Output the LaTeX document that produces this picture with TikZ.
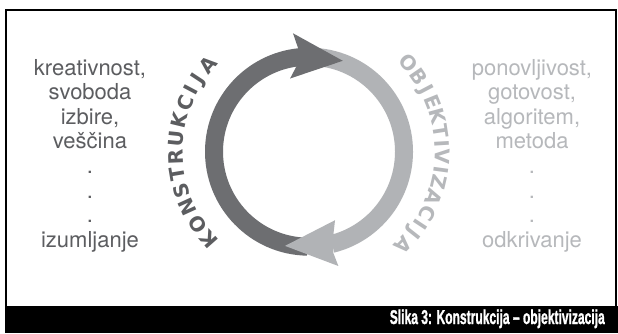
\documentclass[tikz,border=0pt]{standalone}
\usepackage{fontspec}
\usepackage{graphicx}
\setmainfont{TeX Gyre Heros}
\newfontfamily\arcfont{DejaVu Sans}
\newfontfamily\capfont{Liberation Sans}[BoldFeatures={FakeBold=1.5}]
\usetikzlibrary{calc}
\definecolor{darkring}{HTML}{6D6E71}
\definecolor{lightring}{HTML}{B1B3B6}
\definecolor{darktext}{HTML}{5C5D60}
\definecolor{lighttext}{HTML}{B6B8BB}
\tikzset{
  wordL/.style={anchor=base, inner sep=0pt, text=darktext, font=\fontsize{22}{24}\selectfont},
  wordR/.style={anchor=base, inner sep=0pt, text=lighttext, font=\fontsize{22}{24}\selectfont},
  arcletter/.style={anchor=base, inner sep=0pt, font=\arcfont\bfseries\fontsize{20}{22}\selectfont},
}
\begin{document}
\begin{tikzpicture}[x=1pt,y=1pt]
\useasboundingbox (0,0) rectangle (618,333);
\fill[white] (0,0) rectangle (618,333);
% frame and caption bar
\draw[line width=1.3pt] (6,27) -- (6,323) -- (616,323) -- (616,27);
\fill[black] (5,0) rectangle (618,27);
\node[anchor=base east, inner sep=0pt, text=white] (caption) at (605,9)
  {\resizebox{215pt}{14.5pt}{\capfont\bfseries Slika 3: Konstrukcija – objektivizacija}};
% cycle
\coordinate (C) at (309,181.3);
\draw[darkring, line width=18pt] ($(C)+(269:95)$) arc[start angle=269, end angle=96, radius=95];
\draw[lightring, line width=18pt] ($(C)+(84:95)$) arc[start angle=84, end angle=-76, radius=95];
\fill[darkring] ($(C)+(69.6:97)$) -- ($(C)+(97.7:119.5)$) -- ($(C)+(96:104)$) -- ($(C)+(98.5:86)$) -- ($(C)+(104.5:75.6)$) -- cycle;
\fill[lightring] ($(C)+(-104.3:97.2)$) -- ($(C)+(-75.6:118)$) -- ($(C)+(-76.5:104)$) -- ($(C)+(-73.5:86)$) -- ($(C)+(-69.2:73.3)$) -- cycle;
% curved labels, letter by letter
\foreach \ch/\a [count=\i] in {K/221.3,O/213.2,N/204.6,S/196.8,T/189.6,R/182.2,U/174.3,K/166.5,C/158.6,I/152.1,J/146.6,A/139.3}
  \node[arcletter, text=darktext, rotate=\a-90] (kl\i) at ($(C)+(\a:126)$) {\ch};
\foreach \ch/\a [count=\i] in {O/41.8,B/34.3,J/27.9,E/21.9,K/15.4,T/8.7,I/3.4,V/-2.2,I/-7.8,Z/-13.1,A/-20.1,C/-27.6,I/-33.4,J/-38.2,A/-44.8}
  \node[arcletter, text=lighttext, rotate=\a-90] (ol\i) at ($(C)+(\a:126)$) {\ch};
% word lists
\foreach \t [count=\i from 0] in {{kreativnost,},svoboda,{izbire,},veščina,.,.,.,izumljanje}
  \node[wordL] (l\i) at (90,{258-24.6*\i}) {\t};
\foreach \t [count=\i from 0] in {{ponovljivost,},{gotovost,},{algoritem,},metoda,.,.,.,odkrivanje}
  \node[wordR] (r\i) at (532,{258-24.6*\i}) {\t};
\end{tikzpicture}
\end{document}
